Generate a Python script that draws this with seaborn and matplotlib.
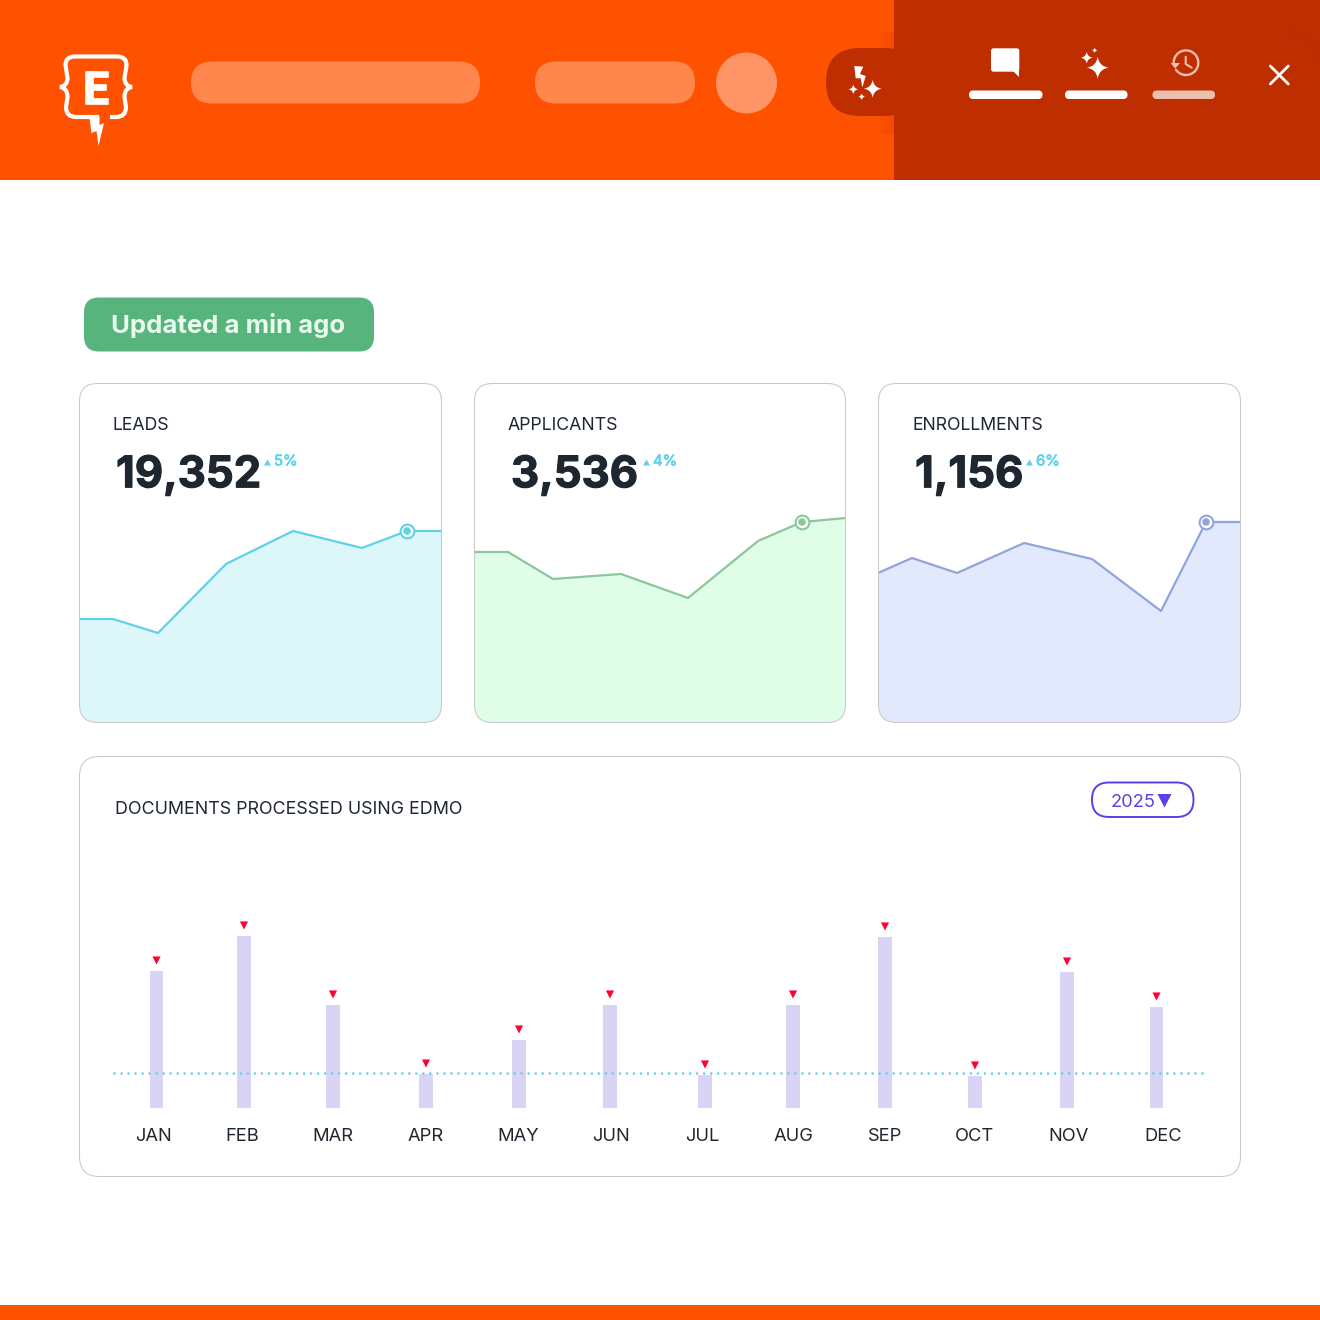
"""Enrollment dashboard mock-up: header strip, three KPI sparklines, monthly bars."""
import matplotlib
matplotlib.use("Agg")
import matplotlib.pyplot as plt
import matplotlib.patheffects as pe
import numpy as np
import pandas as pd
import seaborn as sns
from matplotlib.patches import Circle, FancyBboxPatch, PathPatch, Polygon, Rectangle
from matplotlib.path import Path

# ── DATA ────────────────────────────────────────────────────────────────────
kpi_names = ["LEADS", "APPLICANTS", "ENROLLMENTS"]
kpi_totals = ["19,352", "3,536", "1,156"]
kpi_deltas = ["5%", "4%", "6%"]

leads_t = [0, 34, 79, 147, 214, 283, 328, 363]
leads_v = [104, 104, 90, 159, 192, 175, 192, 192]
applicants_t = [0, 34, 79, 147, 214, 284, 328, 372]
applicants_v = [171, 171, 144, 149, 125, 182, 201, 205]
enrollments_t = [0, 34, 79, 146, 214, 283, 328, 363]
enrollments_v = [150, 165, 150, 180, 164, 112, 201, 201]

months = ["JAN", "FEB", "MAR", "APR", "MAY", "JUN", "JUL", "AUG", "SEP", "OCT", "NOV", "DEC"]
month_t = [76.5, 164, 253, 346, 439, 530, 625, 713, 805, 895, 987, 1076.5]
month_label_t = [73, 162.5, 253, 346, 438, 531, 622, 713.5, 805, 895, 989, 1083]
docs = [137, 172, 103, 34, 68, 103, 33, 103, 171, 32, 136, 101]
docs_target = 35
year_label = "2025"
badge_text = "Updated a min ago"
docs_title = "DOCUMENTS PROCESSED USING EDMO"

# ── STYLE ───────────────────────────────────────────────────────────────────
sns.set_theme(style="white")
plt.rcParams["font.family"] = ["Inter", "DejaVu Sans"]

ORANGE = "#FF5200"
RUST = "#BF2E00"
PILL = "#FF864D"
PILL_LIGHT = "#FF9566"
MUTED = "#EDBFAE"
INK = "#1E2730"
CYAN = "#5CD3EC"
BORDER = "#C9C9C9"
PURPLE = "#5B3FE8"

CARDS = [
    (79.5, 441.5, 113, 116, 264, 274, "#5FD2E8", "#DCF6FA", 6),
    (474.5, 845.5, 508, 511, 643, 653, "#8CC79B", "#E0FDE8", 6),
    (878.5, 1240.5, 912, 915, 1026, 1036, "#8FA5DC", "#E3E9FD", 6),
]
CARD_TOP, CARD_BOTTOM = 383.5, 722.5

fig = plt.figure(figsize=(13.2, 13.2), dpi=100, facecolor="white")
bg = fig.add_axes([0, 0, 1, 1])
bg.set_xlim(0, 1320)
bg.set_ylim(1320, 0)
bg.axis("off")


def rounded(ax, x0, y0, x1, y1, r, **kw):
    patch = FancyBboxPatch((x0 + r, y0 + r), x1 - x0 - 2 * r, y1 - y0 - 2 * r,
                           boxstyle=f"round,pad={r},rounding_size={r}", **kw)
    ax.add_patch(patch)
    return patch


def sparkle(ax, cx, cy, r, color):
    k = r * 0.12
    verts = [(cx, cy - r), (cx + k, cy - k), (cx + r, cy), (cx + k, cy + k),
             (cx, cy + r), (cx - k, cy + k), (cx - r, cy), (cx - k, cy - k), (cx, cy - r)]
    codes = [Path.MOVETO] + [Path.CURVE3] * 8
    ax.add_patch(PathPatch(Path(verts, codes), fc=color, ec="none", zorder=3))


# ── HEADER ──────────────────────────────────────────────────────────────────
bg.add_patch(Rectangle((0, 0), 1320, 180, fc=ORANGE, ec="none"))
rounded(bg, 191, 61.5, 480, 103.5, 21, fc=PILL, ec="none")
rounded(bg, 535, 61.5, 695, 103.5, 21, fc=PILL, ec="none")
bg.add_patch(Circle((746.5, 83), 30.5, fc=PILL_LIGHT, ec="none"))

# soft shadow of the tab against the panel
shade = np.zeros((1, 20, 4))
shade[..., :3] = matplotlib.colors.to_rgb(RUST)
shade[..., 3] = np.linspace(0, 0.22, 20)
bg.imshow(shade, extent=(876, 894, 48, 32), aspect="auto", zorder=1)
bg.imshow(shade, extent=(876, 894, 134, 116), aspect="auto", zorder=1)
bg.set_xlim(0, 1320)
bg.set_ylim(1320, 0)

bg.add_patch(Rectangle((894, 0), 426, 180, fc=RUST, ec="none", zorder=2))
rounded(bg, 826, 48, 920, 116, 34, fc=RUST, ec="none", zorder=2)

# faint corner arc at the top right of the panel
corner = np.radians(np.linspace(270, 360, 30))
bg.plot(1291.5 + 27 * np.cos(corner), 60 + 28 * np.sin(corner), color="#A5300A", lw=0.4, zorder=3)

# logo
logo_verts = [(99, 117), (76, 117), (66, 117), (66, 107), (67.5, 97), (67.5, 88), (60, 87),
              (67.5, 86), (67.5, 78), (65.5, 65), (65.5, 56.5), (75, 56.5), (117, 56.5),
              (127, 56.5), (126.5, 66), (124.5, 78), (124.5, 86), (132, 87), (124.5, 88),
              (124.5, 97), (126, 107), (126, 117), (116, 117), (110, 117)]
logo_codes = [Path.MOVETO, Path.LINETO, Path.CURVE3, Path.CURVE3, Path.LINETO, Path.CURVE3, Path.CURVE3,
              Path.CURVE3, Path.CURVE3, Path.LINETO, Path.CURVE3, Path.CURVE3, Path.LINETO,
              Path.CURVE3, Path.CURVE3, Path.LINETO, Path.CURVE3, Path.CURVE3, Path.CURVE3,
              Path.CURVE3, Path.LINETO, Path.CURVE3, Path.CURVE3, Path.LINETO]
bg.add_patch(PathPatch(Path(logo_verts, logo_codes), fc="none", ec="white", lw=3, zorder=3, capstyle="butt"))
bg.add_patch(Polygon([(89.5, 118), (91.5, 133), (96.5, 131), (98.5, 146), (104, 123), (99.5, 125), (99.5, 116)],
                     fc="white", ec="none", zorder=3))
bg.text(96.5, 104, "E", color="white", fontsize=32, fontweight="bold", ha="center", va="baseline", zorder=3,
        path_effects=[pe.withStroke(linewidth=1.2, foreground="white")])

# tab icons
bg.add_patch(Polygon([(854.3, 66), (863.3, 66.7), (860, 74), (865.7, 76), (862.3, 87.3), (860.7, 78.3), (855.7, 78.3)],
                     fc="white", ec="none", zorder=3))
for cx, cy, r in [(872.7, 88.7, 9), (853.3, 89.3, 5), (861.7, 96.7, 3.4),
                  (1097.7, 67.7, 11), (1086.7, 57.7, 6), (1094.7, 50.3, 2.8)]:
    sparkle(bg, cx, cy, r, "white")

# panel icons
rounded(bg, 991, 48.3, 1019.3, 71.7, 2.5, fc="white", ec="none", zorder=3)
bg.add_patch(Polygon([(1013, 71), (1019.3, 71), (1019.3, 77)], fc="white", ec="none", zorder=3))
rounded(bg, 969, 90.5, 1042.5, 99, 4.2, fc="white", ec="none", zorder=3)
rounded(bg, 1065, 90.5, 1127.5, 99, 4.2, fc="white", ec="none", zorder=3)
rounded(bg, 1152.5, 90.5, 1215, 99, 4.2, fc=MUTED, ec="none", zorder=3)
clock = np.radians(np.linspace(180, 505, 60))
bg.plot(1186 + 12.3 * np.cos(clock), 62.7 + 12.3 * np.sin(clock), color=MUTED, lw=1.7, zorder=3)
bg.add_patch(Polygon([(1170.5, 63), (1180, 63), (1175.3, 68.5)], fc=MUTED, ec="none", zorder=3))
bg.plot([1185.7, 1185.7, 1191.7], [56.7, 64, 67.7], color=MUTED, lw=1.5, zorder=3)
bg.plot([1270.3, 1288.3], [66, 84], color="white", lw=2, zorder=3)
bg.plot([1288.3, 1270.3], [66, 84], color="white", lw=2, zorder=3)

# ── BADGE ───────────────────────────────────────────────────────────────────
rounded(bg, 84, 297.5, 374, 351.5, 15, fc="#57B47C", ec="none")
bg.text(228, 326, badge_text, color="#E9FBEF", fontsize=18.5, fontweight="bold", ha="center", va="center")

# ── KPI CARDS ───────────────────────────────────────────────────────────────
series = [(leads_t, leads_v), (applicants_t, applicants_v), (enrollments_t, enrollments_v)]
for i, (x0, x1, lab_x, num_x, tri_x, pct_x, line_c, fill_c, peak) in enumerate(CARDS):
    card = rounded(bg, x0, CARD_TOP, x1, CARD_BOTTOM, 18, fc="white", ec="none")

    bg.text(lab_x, 430, kpi_names[i], color=INK, fontsize=12.75, ha="left", va="baseline")
    bg.text(num_x, 487.3, kpi_totals[i], color=INK, fontsize=31.4, fontweight="bold", ha="left", va="baseline",
            path_effects=[pe.withStroke(linewidth=0.8, foreground=INK)])
    bg.add_patch(Polygon([(tri_x, 465.5), (tri_x + 7, 465.5), (tri_x + 3.5, 459.5)], fc=CYAN, ec="none"))
    bg.text(pct_x, 465.5, kpi_deltas[i], color=CYAN, fontsize=10.7, ha="left", va="baseline",
            path_effects=[pe.withStroke(linewidth=0.5, foreground=CYAN)])

    ax = fig.add_axes([(x0 - 0.5) / 1320, (1320 - 723) / 1320, (x1 - x0 + 1) / 1320, 340 / 1320])
    ax.patch.set_alpha(0)
    t, v = series[i]
    df = pd.DataFrame({"t": t, "v": v})
    band = ax.fill_between(df["t"], df["v"], 0, color=fill_c, lw=0)
    band.set_clip_path(card)
    sns.lineplot(data=df, x="t", y="v", ax=ax, color=line_c, lw=1.6, estimator=None, sort=False)
    ax.lines[-1].set_clip_path(card)
    peak_df = df.iloc[[peak]]
    sns.scatterplot(data=peak_df, x="t", y="v", ax=ax, s=98, color="white", edgecolor=line_c, linewidth=1.5, zorder=4)
    sns.scatterplot(data=peak_df, x="t", y="v", ax=ax, s=30, color=line_c, edgecolor="none", zorder=5)
    ax.set_xlim(0, x1 - x0 + 1)
    ax.set_ylim(0, 340)
    ax.axis("off")
    # card outline sits over the fill
    outline_ax = fig.add_axes([0, 0, 1, 1])
    outline_ax.set_xlim(0, 1320)
    outline_ax.set_ylim(1320, 0)
    outline_ax.axis("off")
    rounded(outline_ax, x0, CARD_TOP, x1, CARD_BOTTOM, 18, fc="none", ec=BORDER, lw=0.75)

# ── DOCUMENTS PANEL ─────────────────────────────────────────────────────────
rounded(bg, 79.5, 756.5, 1240.5, 1176.5, 20, fc="white", ec=BORDER, lw=0.75)
bg.text(115, 814, docs_title, color=INK, fontsize=12.85, ha="left", va="baseline")
rounded(bg, 1092, 782.5, 1193.5, 817, 17, fc="white", ec=PURPLE, lw=1.4)
bg.text(1111, 807, year_label, color=PURPLE, fontsize=13.2, ha="left", va="baseline")
bg.add_patch(Polygon([(1157.5, 794), (1171.5, 794), (1164.5, 807.5)], fc=PURPLE, ec="none"))

ax_bar = fig.add_axes([80 / 1320, (1320 - 1108) / 1320, 1160 / 1320, 250 / 1320])
ax_bar.patch.set_alpha(0)
bars_df = pd.DataFrame({"t": month_t, "docs": docs})
sns.barplot(data=bars_df, x="t", y="docs", ax=ax_bar, native_scale=True, color="#D9D3F6",
            saturation=1, width=14 / 88, errorbar=None, linewidth=0)
ax_bar.axhline(docs_target, xmin=34 / 1160, xmax=1125 / 1160, color=CYAN, lw=1.9,
               ls=(0, (0.01, 2.65)), dash_capstyle="round", zorder=4)
tips = bars_df.assign(tip=bars_df["docs"] + 10.5)
sns.scatterplot(data=tips, x="t", y="tip", ax=ax_bar, marker="v", s=34, color="#FF0033", edgecolor="none", zorder=5)
ax_bar.set_xlim(0, 1160)
ax_bar.set_ylim(0, 250)
ax_bar.set_xticks(month_label_t, months)
ax_bar.set_yticks([])
ax_bar.set_xlabel("")
ax_bar.set_ylabel("")
ax_bar.tick_params(axis="x", length=0, pad=14.5, labelsize=13.2, labelcolor=INK)
sns.despine(ax=ax_bar, left=True, bottom=True)

# footer strip
bg.add_patch(Rectangle((0, 1305), 1320, 15, fc=ORANGE, ec="none"))

fig.savefig("out.png", dpi=100, facecolor="white")
